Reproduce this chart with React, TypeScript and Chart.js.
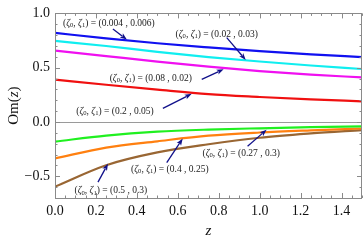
import React, { useEffect, useRef } from "react";
import { Chart, registerables } from "chart.js";

Chart.register(...registerables);

// ---- data ----
const zValues = [0, 0.25, 0.5, 0.75, 1.0, 1.25, 1.5];
const seriesBlue = [0.82, 0.77, 0.725, 0.687, 0.652, 0.622, 0.598];
const seriesCyan = [0.747, 0.7, 0.645, 0.598, 0.557, 0.52, 0.488];
const seriesMagenta = [0.658, 0.607, 0.556, 0.509, 0.469, 0.437, 0.41];
const seriesRed = [0.39, 0.343, 0.298, 0.256, 0.23, 0.208, 0.19];
const seriesGreen = [-0.18, -0.125, -0.089, -0.07, -0.058, -0.048, -0.04];
const seriesOrange = [-0.336, -0.236, -0.178, -0.126, -0.097, -0.077, -0.06];
const seriesBrown = [-0.595, -0.398, -0.28, -0.205, -0.145, -0.105, -0.074];

const xTickValues = [0, 0.2, 0.4, 0.6, 0.8, 1.0, 1.2, 1.4];
const yTickValues = [-0.5, 0, 0.5, 1.0];

// annotation labels (ζ0, ζ1) values and their positions in data coords
const annotationValues = [
  "(0.004 , 0.006)",
  "(0.02 , 0.03)",
  "(0.08 , 0.02)",
  "(0.2 , 0.05)",
  "(0.27 , 0.3)",
  "(0.4 , 0.25)",
  "(0.5 , 0.3)",
];
const labelZ = [0.263, 0.79, 0.468, 0.293, 0.91, 0.561, 0.273];
const labelV = [0.905, 0.81, 0.404, 0.098, -0.286, -0.4375, -0.634];
const arrowTailZ = [0.283, 0.839, 0.717, 0.527, 0.941, 0.546, 0.21];
const arrowTailV = [0.857, 0.777, 0.393, 0.125, -0.223, -0.375, -0.554];
const arrowTipZ = [0.351, 0.932, 0.824, 0.668, 1.034, 0.624, 0.259];
const arrowTipV = [0.759, 0.571, 0.485, 0.259, -0.071, -0.152, -0.384];

const SERIF = "'Liberation Serif', 'DejaVu Serif', serif";

const framePlugin = {
  id: "framePlugin",
  afterDatasetsDraw(chart: any) {
    const { ctx, chartArea } = chart;
    const { left, right, top, bottom } = chartArea;
    const xs = chart.scales.x;
    const ys = chart.scales.y;
    ctx.save();
    // zero axis line
    ctx.strokeStyle = "#9a9a9a";
    ctx.lineWidth = 1;
    ctx.beginPath();
    const y0 = Math.round(ys.getPixelForValue(0)) + 0.5;
    ctx.moveTo(left, y0);
    ctx.lineTo(right, y0);
    ctx.stroke();
    // frame
    ctx.strokeStyle = "#8a8a8a";
    ctx.strokeRect(Math.round(left) + 0.5, Math.round(top) + 0.5, Math.round(right - left) - 1, Math.round(bottom - top));
    // ticks
    ctx.beginPath();
    for (let i = 0; i <= 30; i++) {
      const v = i * 0.05;
      const px = Math.round(xs.getPixelForValue(v)) + 0.5;
      const major = i % 4 === 0;
      const len = major ? 5 : 2.5;
      ctx.moveTo(px, bottom);
      ctx.lineTo(px, bottom - len);
      ctx.moveTo(px, top);
      ctx.lineTo(px, top + len);
    }
    for (let i = -7; i <= 10; i++) {
      const v = i * 0.1;
      const py = Math.round(ys.getPixelForValue(v)) + 0.5;
      const major = i % 5 === 0;
      const len = major ? 5 : 2.5;
      ctx.moveTo(left, py);
      ctx.lineTo(left + len, py);
      ctx.moveTo(right, py);
      ctx.lineTo(right - len, py);
    }
    ctx.stroke();

    // annotations
    const fs = 9.5;
    for (let i = 0; i < annotationValues.length; i++) {
      const segs: [string, string, number][] = [
        ["(", "", 0],
        ["ζ", "italic ", 0],
        ["0", "", 1],
        [", ", "", 0],
        ["ζ", "italic ", 0],
        ["1", "", 1],
        [") = " + annotationValues[i], "", 0],
      ];
      let total = 0;
      const widths: number[] = [];
      for (const [t, st, sub] of segs) {
        ctx.font = `${st}${sub ? fs * 0.7 : fs}px ${SERIF}`;
        const w = ctx.measureText(t).width;
        widths.push(w);
        total += w;
      }
      const cx = xs.getPixelForValue(labelZ[i]);
      const cy = ys.getPixelForValue(labelV[i]);
      let x = cx - total / 2;
      ctx.fillStyle = "#222";
      ctx.textBaseline = "middle";
      ctx.textAlign = "left";
      segs.forEach(([t, st, sub], k) => {
        ctx.font = `${st}${sub ? fs * 0.7 : fs}px ${SERIF}`;
        ctx.fillText(t, x, cy + (sub ? 2 : 0));
        x += widths[k];
      });
      // arrow
      const x1 = xs.getPixelForValue(arrowTailZ[i]);
      const y1 = ys.getPixelForValue(arrowTailV[i]);
      const x2 = xs.getPixelForValue(arrowTipZ[i]);
      const y2 = ys.getPixelForValue(arrowTipV[i]);
      const ang = Math.atan2(y2 - y1, x2 - x1);
      const hl = 7, hw = 2.6;
      ctx.strokeStyle = "#10108a";
      ctx.fillStyle = "#10108a";
      ctx.lineWidth = 1.3;
      ctx.beginPath();
      ctx.moveTo(x1, y1);
      ctx.lineTo(x2 - Math.cos(ang) * hl * 0.8, y2 - Math.sin(ang) * hl * 0.8);
      ctx.stroke();
      ctx.beginPath();
      ctx.moveTo(x2, y2);
      ctx.lineTo(x2 - Math.cos(ang) * hl - Math.sin(ang) * hw, y2 - Math.sin(ang) * hl + Math.cos(ang) * hw);
      ctx.lineTo(x2 - Math.cos(ang) * hl * 0.75, y2 - Math.sin(ang) * hl * 0.75);
      ctx.lineTo(x2 - Math.cos(ang) * hl + Math.sin(ang) * hw, y2 - Math.sin(ang) * hl - Math.cos(ang) * hw);
      ctx.closePath();
      ctx.fill();
    }

    // axis titles
    ctx.fillStyle = "#111";
    ctx.textAlign = "center";
    ctx.textBaseline = "middle";
    ctx.font = `italic 15px ${SERIF}`;
    ctx.fillText("z", (left + right) / 2, 231);
    ctx.save();
    ctx.translate(14, (top + bottom) / 2);
    ctx.rotate(-Math.PI / 2);
    ctx.font = `15px ${SERIF}`;
    const a = "Om(", b = "z", c = ")";
    const wa = ctx.measureText(a).width;
    const wc = ctx.measureText(c).width;
    ctx.font = `italic 15px ${SERIF}`;
    const wb = ctx.measureText(b).width;
    let sx = -(wa + wb + wc) / 2;
    ctx.textAlign = "left";
    ctx.font = `15px ${SERIF}`;
    ctx.fillText(a, sx, 0);
    sx += wa;
    ctx.font = `italic 15px ${SERIF}`;
    ctx.fillText(b, sx, 0);
    sx += wb;
    ctx.font = `15px ${SERIF}`;
    ctx.fillText(c, sx, 0);
    ctx.restore();
    ctx.restore();
  },
};

function mk(label: string, ys: number[], color: string) {
  return {
    label,
    data: zValues.map((z, i) => ({ x: z, y: ys[i] })),
    borderColor: color,
    backgroundColor: color,
    borderWidth: 2.2,
    pointRadius: 0,
    cubicInterpolationMode: "monotone" as const,
    fill: false,
  };
}

export default function App() {
  const ref = useRef<HTMLCanvasElement | null>(null);
  useEffect(() => {
    if (!ref.current) return;
    const fmt = (v: number) => (v < 0 ? "\u2212" : "") + Math.abs(v).toFixed(1);
    const chart = new Chart(ref.current, {
      type: "line",
      data: {
        datasets: [
          mk("(0.004, 0.006)", seriesBlue, "#1010f0"),
          mk("(0.02, 0.03)", seriesCyan, "#10eef0"),
          mk("(0.08, 0.02)", seriesMagenta, "#f010f0"),
          mk("(0.2, 0.05)", seriesRed, "#f01010"),
          mk("(0.27, 0.3)", seriesGreen, "#20f020"),
          mk("(0.4, 0.25)", seriesOrange, "#ff8010"),
          mk("(0.5, 0.3)", seriesBrown, "#996633"),
        ],
      },
      options: {
        animation: false,
        responsive: true,
        maintainAspectRatio: false,
        layout: { padding: { top: 8, right: 2, left: 0, bottom: 0 } },
        plugins: { legend: { display: false }, tooltip: { enabled: false } },
        scales: {
          x: {
            type: "linear",
            min: 0,
            max: 1.5,
            grid: { display: false, drawTicks: false },
            border: { display: false },
            afterBuildTicks: (s: any) => {
              s.ticks = xTickValues.map((v) => ({ value: v }));
            },
            afterFit: (s: any) => {
              s.height = 44;
            },
            ticks: {
              padding: 5,
              maxRotation: 0,
              autoSkip: false,
              color: "#111",
              font: { family: SERIF, size: 14 },
              callback: (v: any) => fmt(Number(v)),
            },
          },
          y: {
            type: "linear",
            min: -0.7,
            max: 1.0,
            grid: { display: false, drawTicks: false },
            border: { display: false },
            afterBuildTicks: (s: any) => {
              s.ticks = yTickValues.map((v) => ({ value: v }));
            },
            afterFit: (s: any) => {
              s.width = 55;
            },
            ticks: {
              padding: 5,
              autoSkip: false,
              color: "#111",
              font: { family: SERIF, size: 14 },
              callback: (v: any) => fmt(Number(v)),
            },
          },
        },
      },
      plugins: [framePlugin],
    });
    return () => chart.destroy();
  }, []);
  return (
    <div style={{ position: "fixed", left: 0, top: 0, width: 364, height: 242, background: "#fff" }}>
      <canvas ref={ref} />
    </div>
  );
}
